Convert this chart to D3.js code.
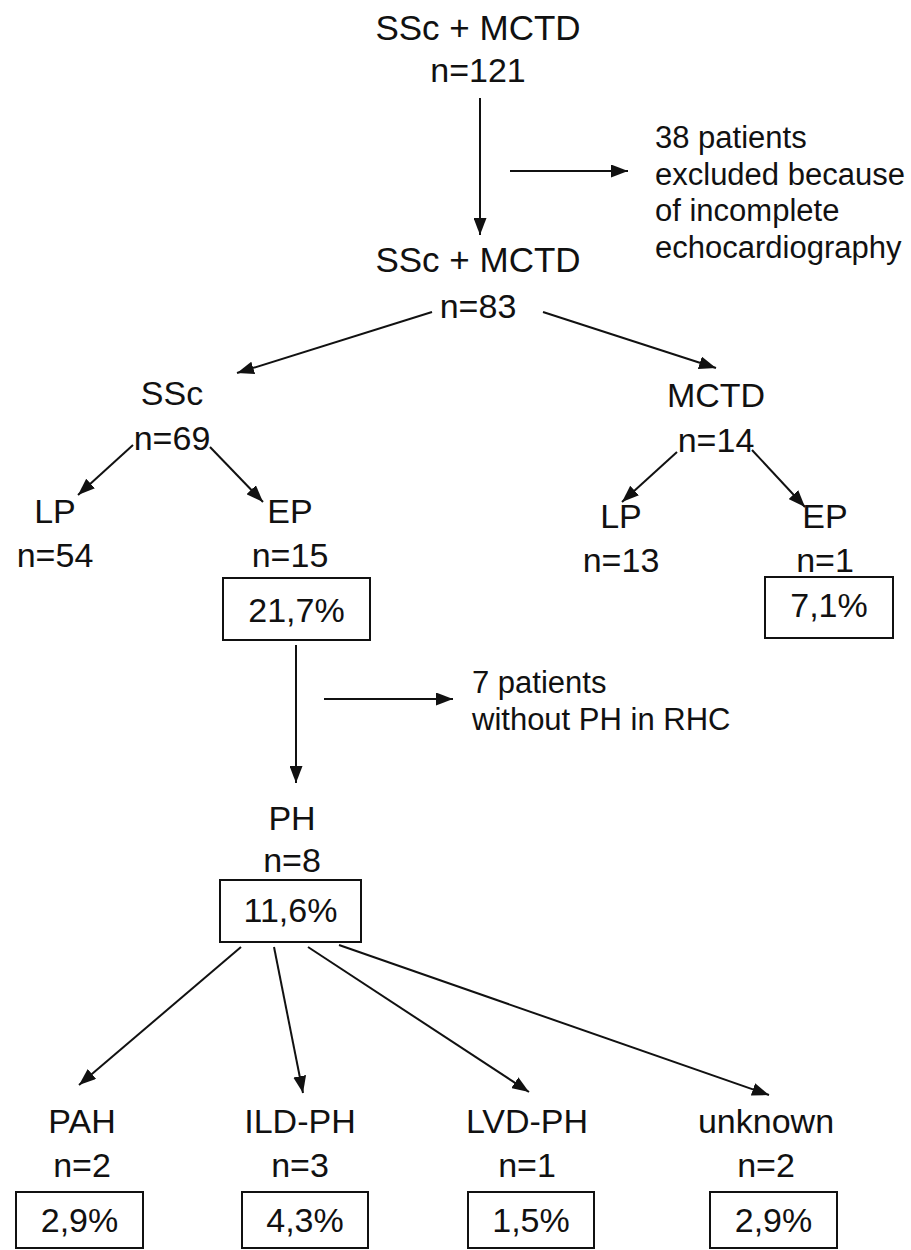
<!DOCTYPE html>
<html>
<head>
<meta charset="utf-8">
<script src="https://cdn.jsdelivr.net/npm/d3@7"></script>
<style>
  body { margin: 0; background: #fff; }
  text { font-family: "Liberation Sans", Arial, sans-serif; fill: #111; }
</style>
</head>
<body>
<div id="chart"></div>
<script>
// flowchart values
let groups = ["SSc + MCTD", "SSc + MCTD", "SSc", "MCTD", "LP", "EP", "LP", "EP", "PH", "PAH", "ILD-PH", "LVD-PH", "unknown"];
let counts = [121, 83, 69, 14, 54, 15, 13, 1, 8, 2, 3, 1, 2];
let percents = [null, null, null, null, null, "21,7%", null, "7,1%", "11,6%", "2,9%", "4,3%", "1,5%", "2,9%"];
let links = [[0, 1], [1, 2], [1, 3], [2, 4], [2, 5], [3, 6], [3, 7], [5, 8], [8, 9], [8, 10], [8, 11], [8, 12]];
let notes = [
    ["38 patients", "excluded because", "of incomplete", "echocardiography"],
    ["7 patients", "without PH in RHC"]
];

// layout: label centre x, label baseline, count baseline
let pos = [
    {x: 478, y: 40,   ny: 82},
    {x: 478, y: 272,  ny: 318},
    {x: 172, y: 405,  ny: 450},
    {x: 716, y: 407,  ny: 452},
    {x: 55,  y: 523,  ny: 567},
    {x: 290, y: 523,  ny: 567},
    {x: 621, y: 528,  ny: 572},
    {x: 825, y: 528,  ny: 572},
    {x: 292, y: 830,  ny: 872},
    {x: 82,  y: 1133, ny: 1177},
    {x: 300, y: 1133, ny: 1177},
    {x: 527, y: 1133, ny: 1177},
    {x: 766, y: 1133, ny: 1177}
];
// percentage boxes [x, y, w, h, text baseline]
let boxes = {
    5:  [223, 578, 147, 62, 622],
    7:  [765, 577, 128, 61, 617],
    8:  [220, 880, 141, 62, 922],
    9:  [16, 1192, 127, 56, 1232],
    10: [242, 1192, 126, 56, 1232],
    11: [468, 1192, 126, 56, 1232],
    12: [710, 1192, 127, 56, 1232]
};
// arrow start / tip for each link
let linkPts = [
    [480, 98, 480, 235],
    [432, 312, 237, 373],
    [543, 312, 716, 368],
    [133, 445, 78, 495],
    [210, 447, 263, 502],
    [677, 452, 622, 502],
    [752, 450, 805, 507],
    [296, 645, 296, 783],
    [241, 947, 79, 1085],
    [274, 947, 303, 1093],
    [308, 947, 529, 1092],
    [339, 945, 769, 1095]
];
let notePos = [
    {x1: 510, x2: 628, y: 171, tx: 655, ty: 148, lh: 36.7},
    {x1: 324, x2: 453, y: 699, tx: 472, ty: 693, lh: 37}
];

let width = 911, height = 1250;

let nodes = groups.map(function (g, i) {
    return {label: g, n: counts[i], pct: percents[i], p: pos[i], box: boxes[i]};
});

let svg = d3.select("#chart").append("svg")
    .attr("width", width)
    .attr("height", height);

svg.append("defs").append("marker")
    .attr("id", "head")
    .attr("markerUnits", "userSpaceOnUse")
    .attr("viewBox", "0 0 17 13")
    .attr("markerWidth", 17)
    .attr("markerHeight", 13)
    .attr("refX", 17)
    .attr("refY", 6.5)
    .attr("orient", "auto")
    .append("path")
    .attr("d", "M0,0 L17,6.5 L0,13 z")
    .attr("fill", "#111");

// links
svg.selectAll("line.link")
    .data(links).enter()
    .append("line")
    .attr("class", "link")
    .attr("x1", (d, i) => linkPts[i][0])
    .attr("y1", (d, i) => linkPts[i][1])
    .attr("x2", (d, i) => linkPts[i][2])
    .attr("y2", (d, i) => linkPts[i][3])
    .attr("stroke", "#111")
    .attr("stroke-width", 2)
    .attr("marker-end", "url(#head)");

// node labels
let node = svg.selectAll("g.node")
    .data(nodes).enter()
    .append("g")
    .attr("class", "node");

node.append("text")
    .attr("x", d => d.p.x)
    .attr("y", d => d.p.y)
    .attr("text-anchor", "middle")
    .attr("font-size", (d, i) => i < 2 ? 35 : 34)
    .text(d => d.label);

node.append("text")
    .attr("x", d => d.p.x)
    .attr("y", d => d.p.ny)
    .attr("text-anchor", "middle")
    .attr("font-size", 34)
    .text(d => "n=" + d.n);

// percentage boxes
let pct = node.filter(d => d.pct !== null);

pct.append("rect")
    .attr("x", d => d.box[0])
    .attr("y", d => d.box[1])
    .attr("width", d => d.box[2])
    .attr("height", d => d.box[3])
    .attr("fill", "none")
    .attr("stroke", "#111")
    .attr("stroke-width", 2);

pct.append("text")
    .attr("x", d => d.box[0] + d.box[2] / 2)
    .attr("y", d => d.box[4])
    .attr("text-anchor", "middle")
    .attr("font-size", 34)
    .text(d => d.pct);

// side notes
notes.forEach(function (lines, k) {
    let p = notePos[k];
    svg.append("line")
        .attr("x1", p.x1).attr("y1", p.y)
        .attr("x2", p.x2).attr("y2", p.y)
        .attr("stroke", "#111")
        .attr("stroke-width", 2)
        .attr("marker-end", "url(#head)");
    svg.append("g").selectAll("text")
        .data(lines).enter()
        .append("text")
        .attr("x", p.tx)
        .attr("y", (d, i) => p.ty + i * p.lh)
        .attr("font-size", 31)
        .text(d => d);
});
</script>
</body>
</html>
